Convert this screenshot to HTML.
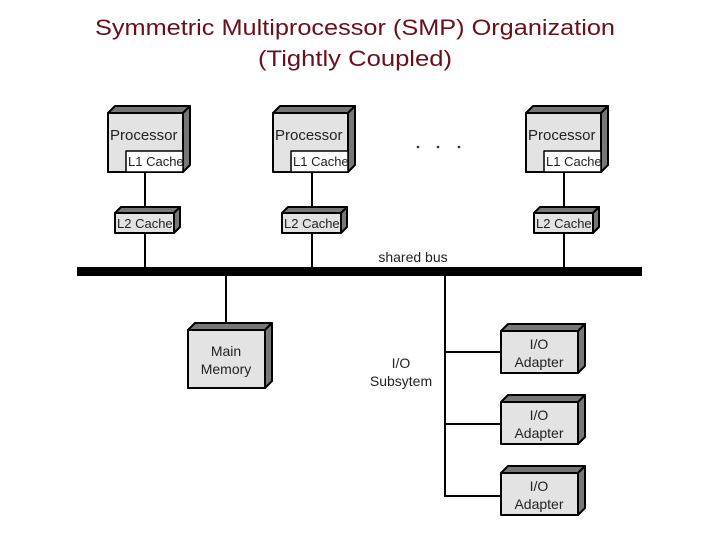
<!DOCTYPE html>
<html><head><meta charset="utf-8"><style>
html,body{margin:0;padding:0;background:#fff;}
svg{display:block;}
text{font-family:"Liberation Sans",Arial,sans-serif;}
</style></head><body>
<svg width="720" height="540" viewBox="0 0 720 540" xmlns="http://www.w3.org/2000/svg">
<text x="355" y="35" text-anchor="middle" font-size="22" fill="#6b0f1a" textLength="520" lengthAdjust="spacingAndGlyphs">Symmetric Multiprocessor (SMP) Organization</text>
<text x="355" y="66" text-anchor="middle" font-size="22" fill="#6b0f1a" textLength="194" lengthAdjust="spacingAndGlyphs">(Tightly Coupled)</text>

<g stroke="#000" stroke-width="2">
<line x1="145" y1="172" x2="145" y2="270"/>
<line x1="312" y1="172" x2="312" y2="270"/>
<line x1="564" y1="172" x2="564" y2="270"/>
<line x1="226" y1="275" x2="226" y2="324"/>
<line x1="445" y1="275" x2="445" y2="497"/>
<line x1="445" y1="352" x2="501" y2="352"/>
<line x1="445" y1="424" x2="501" y2="424"/>
<line x1="445" y1="496" x2="501" y2="496"/>
</g>
<rect x="77" y="267" width="565" height="9" fill="#000"/>

<g stroke="#000" stroke-width="2" stroke-linejoin="round">
<polygon points="108,113 115,106 190,106 183,113" fill="#777"/>
<polygon points="183,113 190,106 190,165 183,172" fill="#777"/>
<rect x="108" y="113" width="75" height="59" fill="#e3e3e3"/>
<rect x="126" y="151" width="57" height="21" fill="#fff" stroke-width="1.5"/>

<polygon points="273,113 280,106 355,106 348,113" fill="#777"/>
<polygon points="348,113 355,106 355,165 348,172" fill="#777"/>
<rect x="273" y="113" width="75" height="59" fill="#e3e3e3"/>
<rect x="291" y="151" width="57" height="21" fill="#fff" stroke-width="1.5"/>

<polygon points="526,113 533,106 608,106 601,113" fill="#777"/>
<polygon points="601,113 608,106 608,165 601,172" fill="#777"/>
<rect x="526" y="113" width="75" height="59" fill="#e3e3e3"/>
<rect x="544" y="151" width="57" height="21" fill="#fff" stroke-width="1.5"/>

<polygon points="115,213 121,207 180,207 174,213" fill="#777"/>
<polygon points="174,213 180,207 180,227 174,233" fill="#777"/>
<rect x="115" y="213" width="59" height="20" fill="#e3e3e3"/>

<polygon points="282,213 288,207 347,207 341,213" fill="#777"/>
<polygon points="341,213 347,207 347,227 341,233" fill="#777"/>
<rect x="282" y="213" width="59" height="20" fill="#e3e3e3"/>

<polygon points="534,213 540,207 599,207 593,213" fill="#777"/>
<polygon points="593,213 599,207 599,227 593,233" fill="#777"/>
<rect x="534" y="213" width="59" height="20" fill="#e3e3e3"/>

<polygon points="188,330 195,323 272,323 265,330" fill="#777"/>
<polygon points="265,330 272,323 272,381 265,388" fill="#777"/>
<rect x="188" y="330" width="77" height="58" fill="#e3e3e3"/>

<polygon points="501,331 508,324 585,324 578,331" fill="#777"/>
<polygon points="578,331 585,324 585,366 578,373" fill="#777"/>
<rect x="501" y="331" width="77" height="42" fill="#e3e3e3"/>

<polygon points="501,402 508,395 585,395 578,402" fill="#777"/>
<polygon points="578,402 585,395 585,437 578,444" fill="#777"/>
<rect x="501" y="402" width="77" height="42" fill="#e3e3e3"/>

<polygon points="501,473 508,466 585,466 578,473" fill="#777"/>
<polygon points="578,473 585,466 585,508 578,515" fill="#777"/>
<rect x="501" y="473" width="77" height="42" fill="#e3e3e3"/>
</g>

<g font-size="15" fill="#222">
<text x="110" y="140">Processor</text>
<text x="275" y="140">Processor</text>
<text x="528" y="140">Processor</text>
</g>
<g font-size="13" fill="#222">
<text x="128" y="166">L1 Cache</text>
<text x="293" y="166">L1 Cache</text>
<text x="546" y="166">L1 Cache</text>
<text x="117" y="228">L2 Cache</text>
<text x="284" y="228">L2 Cache</text>
<text x="536" y="228">L2 Cache</text>
</g>
<g font-size="14" fill="#222" text-anchor="middle">
<text x="413" y="262">shared bus</text>
<text x="226" y="356">Main</text>
<text x="226" y="374">Memory</text>
<text x="401" y="368">I/O</text>
<text x="401" y="386">Subsytem</text>
<text x="539" y="349">I/O</text>
<text x="539" y="367">Adapter</text>
<text x="539" y="420">I/O</text>
<text x="539" y="438">Adapter</text>
<text x="539" y="491">I/O</text>
<text x="539" y="509">Adapter</text>
</g>
<g fill="#333">
<circle cx="418" cy="147" r="1.3"/>
<circle cx="438" cy="147" r="1.3"/>
<circle cx="459" cy="147" r="1.3"/>
</g>
</svg>
</body></html>
